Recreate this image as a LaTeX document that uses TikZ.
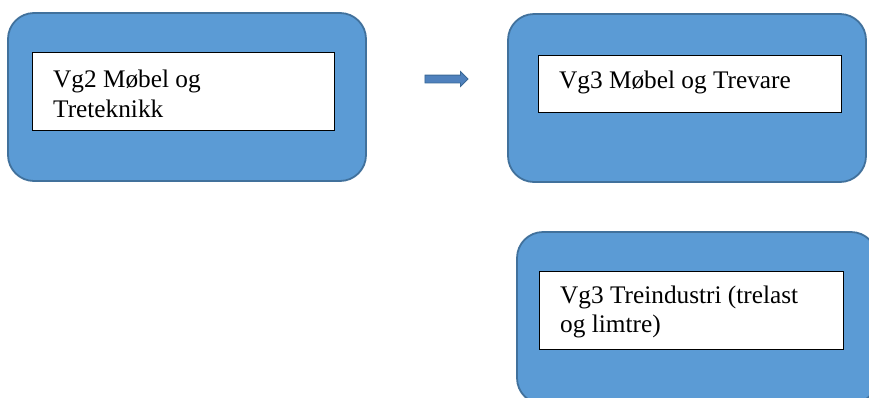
\documentclass[tikz,border=0pt]{standalone}
\usepackage{fontspec}
\setmainfont{Liberation Serif}
\usetikzlibrary{shapes.arrows}
\definecolor{boxfill}{HTML}{5B9BD5}
\definecolor{boxline}{HTML}{41719C}
\definecolor{arrfill}{HTML}{4F81BD}
\definecolor{arrline}{HTML}{3A6896}
\tikzset{
  outerbox/.style={draw=boxline, line width=1.8pt, fill=boxfill, rounded corners=26pt},
  innerbox/.style={draw=black, line width=0.9pt, fill=white},
  label/.style={anchor=base west, inner sep=0pt, font=\fontsize{25.3}{30}\selectfont},
  blockarrow/.style={single arrow, draw=arrline, fill=arrfill, line width=0.8pt,
    minimum height=43pt, minimum width=14pt, inner sep=3.5pt,
    single arrow head extend=3.5pt, single arrow head indent=0pt}
}
\begin{document}
\begin{tikzpicture}[x=1pt,y=-1pt]
\useasboundingbox (0,0) rectangle (869,397);
\clip (0,0) rectangle (869,397);
% outer rounded boxes
\path[outerbox] (8,13) rectangle (366,181);
\path[outerbox] (508,14) rectangle (866,182);
\path[outerbox] (517,232) rectangle (877,404);
% inner boxes
\node[innerbox, minimum width=302pt, minimum height=78pt, anchor=north west, inner sep=0pt] (b1) at (32,52) {};
\node[innerbox, minimum width=303pt, minimum height=57pt, anchor=north west, inner sep=0pt] (b2) at (538,55) {};
\node[innerbox, minimum width=304pt, minimum height=78pt, anchor=north west, inner sep=0pt] (b3) at (539,271) {};
% labels
\node[label] (t1a) at (53,87) {Vg2 Møbel og};
\node[label] (t1b) at (53,117) {Treteknikk};
\node[label] (t2) at (559,88) {Vg3 Møbel og Trevare};
\node[label] (t3a) at (560,303) {Vg3 Treindustri (trelast};
\node[label] (t3b) at (560,332) {og limtre)};
% arrow
\node[blockarrow] (arr) at (444.5,79) {};
\end{tikzpicture}
\end{document}
